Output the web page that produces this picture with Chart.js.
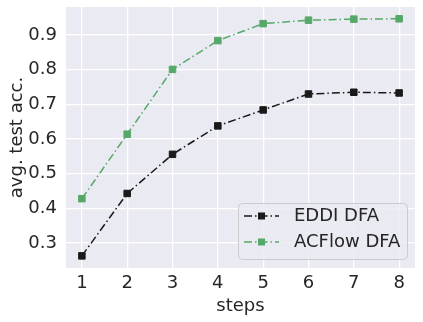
<!DOCTYPE html>
<html>
<head>
<meta charset="utf-8">
<script src="https://cdn.jsdelivr.net/npm/chart.js@4/dist/chart.umd.min.js"></script>
<style>
  html, body { margin: 0; padding: 0; background: #ffffff; }
  #wrap { width: 423px; height: 322px; }
</style>
</head>
<body>
<div id="wrap"><canvas id="c" width="423" height="322"></canvas></div>
<script>
// ---- data ----
const steps = [1, 2, 3, 4, 5, 6, 7, 8];
const eddiDFA = [0.263, 0.443, 0.556, 0.638, 0.684, 0.730, 0.735, 0.733];
const acflowDFA = [0.428, 0.614, 0.801, 0.884, 0.933, 0.943, 0.946, 0.947];
const xTicks = [1, 2, 3, 4, 5, 6, 7, 8];
const yTicks = [0.3, 0.4, 0.5, 0.6, 0.7, 0.8, 0.9];
const seriesLabels = ['EDDI DFA', 'ACFlow DFA'];
const xTitle = 'steps';
const yTitle = 'avg. test acc.';

const TEXT = '#262626';
const FONT = 'DejaVu Sans';
const FS = 18;
const BLACK = '#1a1a1a';
const GREEN = '#55a868';
const DASH = [8, 3, 1.5, 3];

const toPts = (vals) => steps.map((s, i) => ({ x: s, y: vals[i] }));

const bgPlugin = {
  id: 'bg',
  beforeDraw(chart) {
    const { ctx, chartArea: a } = chart;
    ctx.save();
    ctx.fillStyle = '#eaeaf2';
    ctx.fillRect(a.left, a.top, a.right - a.left, a.bottom - a.top);
    ctx.restore();
  }
};

const legendPlugin = {
  id: 'customLegend',
  afterDraw(chart) {
    const { ctx, chartArea: a } = chart;
    const bw = 169, bh = 56;
    const bx = a.right - 8 - bw, by = a.bottom - 9 - bh;
    ctx.save();
    ctx.beginPath();
    ctx.roundRect(bx + 0.5, by + 0.5, bw, bh, 4);
    ctx.fillStyle = 'rgba(234,234,242,0.8)';
    ctx.fill();
    ctx.strokeStyle = '#cccccc';
    ctx.lineWidth = 1;
    ctx.stroke();
    chart.data.datasets.forEach((ds, i) => {
      const y = by + 13 + i * 26;
      const x0 = bx + 6, x1 = bx + 41, xm = (x0 + x1) / 2;
      ctx.beginPath();
      ctx.setLineDash(DASH);
      ctx.strokeStyle = ds.borderColor;
      ctx.lineWidth = 1.5;
      ctx.moveTo(x0, y);
      ctx.lineTo(x1, y);
      ctx.stroke();
      ctx.setLineDash([]);
      ctx.fillStyle = ds.pointBackgroundColor;
      ctx.fillRect(xm - 3.5, y - 3.5, 7, 7);
      ctx.fillStyle = TEXT;
      ctx.font = FS + 'px "' + FONT + '"';
      ctx.textBaseline = 'middle';
      ctx.textAlign = 'left';
      ctx.fillText(ds.label, bx + 56, y);
    });
    ctx.restore();
  }
};

const mkDs = (label, vals, color) => ({
  label,
  data: toPts(vals),
  borderColor: color,
  backgroundColor: color,
  pointBackgroundColor: color,
  pointBorderColor: color,
  pointStyle: 'rect',
  pointRadius: 4.6,
  pointBorderWidth: 1,
  borderWidth: 1.5,
  borderDash: DASH,
  showLine: true,
  tension: 0,
  fill: false
});

new Chart(document.getElementById('c'), {
  type: 'scatter',
  data: {
    datasets: [
      mkDs(seriesLabels[0], eddiDFA, BLACK),
      mkDs(seriesLabels[1], acflowDFA, GREEN)
    ]
  },
  options: {
    responsive: false,
    animation: false,
    devicePixelRatio: 1,
    layout: { padding: { left: 0, top: 7, right: 8, bottom: 0 } },
    plugins: { legend: { display: false }, tooltip: { enabled: false } },
    scales: {
      x: {
        type: 'linear',
        min: 0.65, max: 8.35,
        afterBuildTicks: (s) => { s.ticks = xTicks.map(v => ({ value: v })); },
        afterFit: (s) => { s.height = 54; s.paddingLeft = 0; s.paddingRight = 0; },
        grid: { color: '#ffffff', lineWidth: 1.25, drawTicks: false },
        border: { display: false },
        ticks: {
          color: TEXT, font: { family: FONT, size: FS }, padding: 5,
          callback: (v) => String(v)
        },
        title: {
          display: true, text: xTitle, color: TEXT,
          font: { family: FONT, size: FS }, padding: { top: 0, bottom: 5 }
        }
      },
      y: {
        type: 'linear',
        min: 0.228, max: 0.981,
        afterBuildTicks: (s) => { s.ticks = yTicks.map(v => ({ value: v })); },
        afterFit: (s) => { s.width = 66; s.paddingTop = 0; s.paddingBottom = 0; },
        grid: { color: '#ffffff', lineWidth: 1.25, drawTicks: false },
        border: { display: false },
        ticks: {
          color: TEXT, font: { family: FONT, size: FS }, padding: 9,
          callback: (v) => Number(v).toFixed(1)
        },
        title: {
          display: true, text: yTitle, color: TEXT,
          font: { family: FONT, size: FS }, padding: { top: 7, bottom: 0 }
        }
      }
    }
  },
  plugins: [bgPlugin, legendPlugin]
});
</script>
</body>
</html>
